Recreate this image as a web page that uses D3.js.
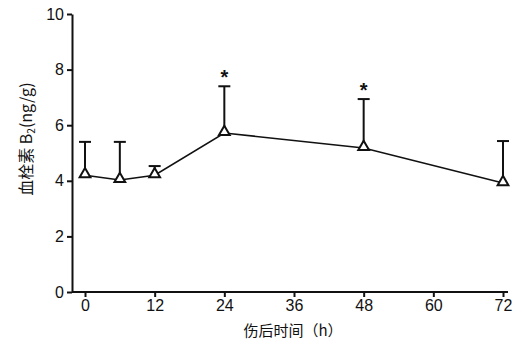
<!DOCTYPE html>
<html>
<head>
<meta charset="utf-8">
<script src="https://cdn.jsdelivr.net/npm/d3@7"></script>
<style>
  body { margin: 0; background: #fff; }
  svg { display: block; }
  text { font-family: 'Liberation Sans', Arial, sans-serif; fill: #111; }
</style>
</head>
<body>
<div id="chart"></div>
<script>
// time points (h), means and upper error (mean + SD)
const hours = [0, 6, 12, 24, 48, 72];
const means = [4.2, 4.03, 4.2, 5.72, 5.18, 3.92];
const upper = [5.4, 5.4, 4.53, 7.4, 6.94, 5.43];
const significant = [false, false, false, true, true, false];
const xTicks = [0, 12, 24, 36, 48, 60, 72];
const yTicks = [0, 2, 4, 6, 8, 10];

const width = 517, height = 341;
const svg = d3.select('#chart').append('svg')
  .attr('width', width).attr('height', height);

const x = d3.scaleLinear().domain([0, 72]).range([85, 503]);
const y = d3.scaleLinear().domain([0, 10]).range([292, 14]);

// axes
const xAxis = svg.append('g')
  .attr('transform', `translate(0,${y(0)})`)
  .call(d3.axisBottom(x).tickValues(xTicks).tickSize(5).tickPadding(3).tickSizeOuter(0));
xAxis.select('.domain').attr('d', `M72,0H508`);
const yAxis = svg.append('g')
  .attr('transform', `translate(72,0)`)
  .call(d3.axisLeft(y).tickValues(yTicks).tickSize(5).tickPadding(3).tickSizeOuter(0));

svg.selectAll('.domain').attr('stroke', '#111').attr('stroke-width', 2);
svg.selectAll('.tick line').attr('stroke', '#111').attr('stroke-width', 2);
svg.selectAll('.tick text').style('font-size', '16px').attr('fill', '#111');

// line
svg.append('path')
  .datum(hours.map((h, i) => [h, means[i]]))
  .attr('fill', 'none')
  .attr('stroke', '#111')
  .attr('stroke-width', 1.6)
  .attr('d', d3.line().x(d => x(d[0])).y(d => y(d[1])));

// error bars (upper only)
const eb = svg.append('g').attr('stroke', '#111').attr('stroke-width', 2);
hours.forEach((h, i) => {
  eb.append('line').attr('x1', x(h)).attr('x2', x(h)).attr('y1', y(means[i])).attr('y2', y(upper[i]));
  eb.append('line').attr('x1', x(h) - 6).attr('x2', x(h) + 6).attr('y1', y(upper[i])).attr('y2', y(upper[i]));
});

// open triangle markers
svg.append('g').selectAll('path')
  .data(hours)
  .join('path')
  .attr('transform', (h, i) => `translate(${x(h)},${y(means[i]) - 1})`)
  .attr('d', d3.symbol(d3.symbolTriangle, 50))
  .attr('fill', '#fff')
  .attr('stroke', '#111')
  .attr('stroke-width', 2);

// significance stars
svg.append('g').selectAll('text')
  .data(hours.filter((h, i) => significant[i]))
  .join('text')
  .attr('x', h => x(h))
  .attr('y', h => y(upper[hours.indexOf(h)]) - 2)
  .attr('text-anchor', 'middle')
  .style('font-size', '20px')
  .style('font-weight', 'bold')
  .text('*');

// axis titles
svg.append('text')
  .attr('x', 293).attr('y', 336)
  .attr('text-anchor', 'middle')
  .style('font-family', "'Noto Sans CJK SC', sans-serif")
  .style('font-size', '15px')
  .text('伤后时间（h）');

svg.append('text')
  .attr('transform', 'translate(32,139) rotate(-90)')
  .attr('text-anchor', 'middle')
  .style('font-family', "'Noto Sans CJK SC', sans-serif")
  .style('font-size', '16px')
  .html('血栓素 B<tspan dy="3" font-size="10">2</tspan><tspan dy="-3">(ng/g)</tspan>');
</script>
</body>
</html>
